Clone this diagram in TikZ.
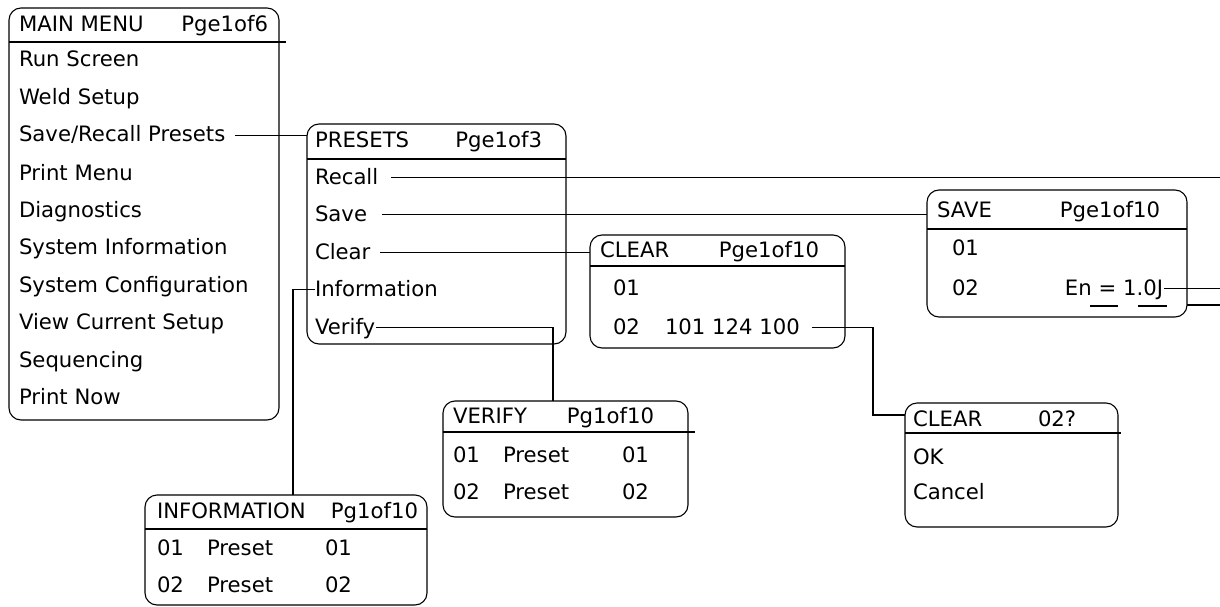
\documentclass[tikz,border=0pt]{standalone}
\usepackage{fontspec}
\setmainfont{DejaVu Sans}
\begin{document}
\begin{tikzpicture}[x=1pt,y=-1pt,
  line width=1.1pt,
  box/.style={draw, rounded corners=12pt, anchor=north west, inner sep=0pt, outer sep=0pt},
  txt/.style={inner sep=0pt, outer sep=0pt, anchor=base west, text height=13pt, text depth=0pt, font=\fontsize{21.2}{24}\selectfont},
  rtxt/.style={txt, anchor=base east},
  sep/.style={line width=1.1pt},
  conn/.style={line width=1.1pt}]
\useasboundingbox (0,0) rectangle (1220,607);
\coordinate (rightedge) at (1220,0);

% ---------- MAIN MENU ----------
\node[box, minimum width=270pt, minimum height=412pt] (mainbox) at (9,8) {};
\draw[sep] (9,42) -- (286,42);
\node[txt] (mmtitle) at (19,32) {MAIN MENU};
\node[rtxt] (mmpage) at (268,32) {Pge1of6};
\node[txt] (m1) at (19,67) {Run Screen};
\node[txt] (m2) at (19,105) {Weld Setup};
\node[txt] (srp) at (19,142) {Save/Recall Presets};
\node[txt] (m4) at (19,180) {Print Menu};
\node[txt] (m5) at (19,217) {Diagnostics};
\node[txt] (m6) at (19,254) {System Information};
\node[txt] (m7) at (19,292) {System Configuration};
\node[txt] (m8) at (19,329) {View Current Setup};
\node[txt] (m9) at (19,367) {Sequencing};
\node[txt] (m10) at (19,404) {Print Now};

% ---------- PRESETS ----------
\node[box, minimum width=259pt, minimum height=220pt] (presetsbox) at (307,124) {};
\draw[sep] (307,159) -- (566,159);
\node[txt] (prtitle) at (315,147) {PRESETS};
\node[rtxt] (prpage) at (542,147) {Pge1of3};
\node[txt] (recall) at (315,184) {Recall};
\node[txt] (save) at (315,221) {Save};
\node[txt] (clear) at (315,259) {Clear};
\node[txt] (info) at (315,296) {Information};
\node[txt] (verify) at (315,334) {Verify};

% ---------- CLEAR ----------
\node[box, minimum width=255pt, minimum height=113pt] (clearbox) at (590,235) {};
\draw[sep] (590,266) -- (845,266);
\node[txt] (cltitle) at (600,257) {CLEAR};
\node[rtxt] (clpage) at (819,257) {Pge1of10};
\node[txt] (cl01) at (613,295) {01};
\node[txt] (cl02) at (613,334) {02};
\node[txt] (cl02v) at (665,334) {101 124 100};

% ---------- SAVE ----------
\node[box, minimum width=260pt, minimum height=127pt] (savebox) at (927,190) {};
\draw[sep] (927,229) -- (1187,229);
\node[txt] (svtitle) at (937,217) {SAVE};
\node[rtxt] (svpage) at (1160,217) {Pge1of10};
\node[txt] (sv01) at (952,255) {01};
\node[txt] (sv02) at (952,295) {02};
\node[rtxt] (sven) at (1163,295) {En = 1.0J};
\draw[sep] (1090,306) -- (1118,306);
\draw[sep] (1138,306) -- (1167,306);

% ---------- VERIFY ----------
\node[box, minimum width=245pt, minimum height=116pt] (verbox) at (443,401) {};
\draw[sep] (443,432) -- (695,432);
\node[txt] (vetitle) at (453,423) {VERIFY};
\node[rtxt] (vepage) at (654,423) {Pg1of10};
\node[txt] (ve1a) at (453,462) {01};
\node[txt] (ve1b) at (503,462) {Preset};
\node[txt] (ve1c) at (622,462) {01};
\node[txt] (ve2a) at (453,499) {02};
\node[txt] (ve2b) at (503,499) {Preset};
\node[txt] (ve2c) at (622,499) {02};

% ---------- CLEAR 02? ----------
\node[box, minimum width=213pt, minimum height=124pt] (c2box) at (905,403) {};
\draw[sep] (905,433) -- (1121,433);
\node[txt] (c2title) at (913,426) {CLEAR};
\node[txt] (c2page) at (1038,426) {02?};
\node[txt] (c2ok) at (913,464) {OK};
\node[txt] (c2cancel) at (913,499) {Cancel};

% ---------- INFORMATION ----------
\node[box, minimum width=282pt, minimum height=110pt] (infobox) at (145,495) {};
\draw[sep] (145,529) -- (427,529);
\node[txt] (iftitle) at (157,518) {INFORMATION};
\node[rtxt] (ifpage) at (418,518) {Pg1of10};
\node[txt] (if1a) at (157,555) {01};
\node[txt] (if1b) at (207,555) {Preset};
\node[txt] (if1c) at (325,555) {01};
\node[txt] (if2a) at (157,592) {02};
\node[txt] (if2b) at (207,592) {Preset};
\node[txt] (if2c) at (325,592) {02};

% ---------- connectors ----------
\coordinate (infoin) at (293,495);
\coordinate (verin) at (553,401);
\coordinate (c2in) at (905,415);

\draw[conn] ([xshift=10pt]srp.east) -- (srp.east -| presetsbox.west);
\draw[conn] ([xshift=13pt]recall.east) -- (recall.east -| rightedge);
\draw[conn] ([xshift=15pt]save.east) -- (save.east -| savebox.west);
\draw[conn] ([xshift=10pt]clear.east) -- (clear.east -| clearbox.west);
\draw[conn] (info.west) -| (infoin);
\draw[conn] ([xshift=1pt]verify.east) -| (verin);
\draw[conn] ([xshift=12pt]cl02v.east) -| ([xshift=-32pt]c2in) -- (c2in);
\draw[conn] ([xshift=1pt]sven.east) -- (sven.east -| rightedge);
\draw[conn] ([yshift=12pt]savebox.south east) -- ([yshift=12pt]savebox.south east -| rightedge);
\end{tikzpicture}
\end{document}
